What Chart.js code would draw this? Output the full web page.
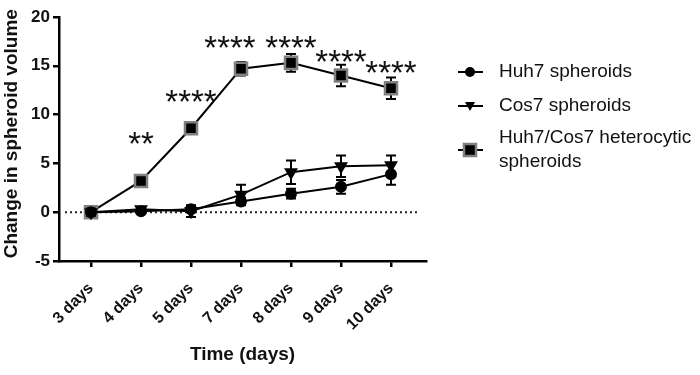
<!DOCTYPE html>
<html>
<head>
<meta charset="utf-8">
<script src="https://cdn.jsdelivr.net/npm/chart.js@4.4.1/dist/chart.umd.min.js"></script>
<style>
  html, body { margin: 0; padding: 0; background: #fff; }
  #wrap { width: 700px; height: 375px; }
</style>
</head>
<body>
<div id="wrap"><canvas id="chart"></canvas></div>
<script>
// data
var days = ['3 days', '4 days', '5 days', '7 days', '8 days', '9 days', '10 days'];
var huh7 = [0, 0.1, 0.3, 1.1, 1.9, 2.6, 3.9];
var huh7Err = [0.1, 0.1, 0.2, 0.4, 0.5, 0.7, 1.1];
var cos7 = [0, 0.3, 0.1, 1.8, 4.1, 4.7, 4.8];
var cos7Err = [0.1, 0.2, 0.6, 1.0, 1.2, 1.1, 1.0];
var hetero = [0, 3.2, 8.6, 14.7, 15.3, 14.0, 12.7];
var heteroErr = [0.2, 0.2, 0.3, 0.7, 0.9, 1.1, 1.1];
// significance marks and the value level they sit at
var sigMarks = ['', '**', '****', '****', '****', '****', '****'];
var sigLevel = [null, 7.8, 12.1, 17.6, 17.6, 16.2, 15.1];
var yTicks = [-5, 0, 5, 10, 15, 20];

var FONT = "'Liberation Sans', Arial, sans-serif";
var errs = [huh7Err, cos7Err, heteroErr];

function pts(arr) {
  return arr.map(function (v, i) { return { x: i, y: v }; });
}

// error bars + dotted zero line + stars
var errorBars = {
  id: 'errorBars',
  beforeDatasetsDraw: function (chart) {
    var ctx = chart.ctx, xs = chart.scales.x, ys = chart.scales.y, a = chart.chartArea;
    ctx.save();
    // dotted line at 0
    var y0 = ys.getPixelForValue(0);
    ctx.strokeStyle = '#222';
    ctx.lineWidth = 2;
    ctx.setLineDash([2, 3]);
    ctx.beginPath();
    ctx.moveTo(a.left + 6, y0);
    ctx.lineTo(a.right - 6, y0);
    ctx.stroke();
    ctx.setLineDash([]);

    ctx.strokeStyle = '#000';
    ctx.lineWidth = 2;
    chart.data.datasets.forEach(function (ds, di) {
      ds.data.forEach(function (p, i) {
        var e = errs[di][i];
        var x = xs.getPixelForValue(p.x);
        var yt = ys.getPixelForValue(p.y + e), yb = ys.getPixelForValue(p.y - e);
        ctx.beginPath();
        ctx.moveTo(x, yt); ctx.lineTo(x, yb);
        ctx.moveTo(x - 5, yt); ctx.lineTo(x + 5, yt);
        ctx.moveTo(x - 5, yb); ctx.lineTo(x + 5, yb);
        ctx.stroke();
      });
    });
    ctx.restore();
  },
  afterDatasetsDraw: function (chart) {
    var ctx = chart.ctx, xs = chart.scales.x, ys = chart.scales.y;
    ctx.save();
    ctx.fillStyle = '#111';
    ctx.font = '33px ' + FONT;
    ctx.textAlign = 'center';
    ctx.textBaseline = 'alphabetic';
    sigMarks.forEach(function (m, i) {
      if (!m) return;
      var x = xs.getPixelForValue(i);
      if (i === 3) x -= 11; // nudged left like the original so it clears the next one
      var y = ys.getPixelForValue(sigLevel[i]);
      ctx.fillText(m, x, y + 19);
    });
    ctx.restore();
  }
};

// legend on the right, line + marker
var sideLegend = {
  id: 'sideLegend',
  afterDraw: function (chart) {
    var ctx = chart.ctx;
    var items = [
      { text: ['Huh7 spheroids'], y: 72, shape: 'circle' },
      { text: ['Cos7 spheroids'], y: 106, shape: 'tri' },
      { text: ['Huh7/Cos7 heterocytic', 'spheroids'], y: 150, shape: 'rect' }
    ];
    ctx.save();
    items.forEach(function (it) {
      ctx.strokeStyle = '#000';
      ctx.lineWidth = 2;
      ctx.beginPath();
      ctx.moveTo(458, it.y); ctx.lineTo(483, it.y);
      ctx.stroke();
      ctx.beginPath();
      if (it.shape === 'circle') {
        ctx.fillStyle = '#000';
        ctx.arc(470, it.y, 5, 0, Math.PI * 2);
        ctx.fill();
      } else if (it.shape === 'tri') {
        ctx.fillStyle = '#000';
        ctx.moveTo(465, it.y - 4); ctx.lineTo(475, it.y - 4); ctx.lineTo(470, it.y + 5);
        ctx.closePath();
        ctx.fill();
      } else {
        ctx.fillStyle = '#000';
        ctx.fillRect(464, it.y - 6, 12, 12);
        ctx.strokeStyle = '#808080';
        ctx.lineWidth = 2.5;
        ctx.strokeRect(464, it.y - 6, 12, 12);
      }
      ctx.fillStyle = '#111';
      ctx.font = '19px ' + FONT;
      ctx.textAlign = 'left';
      ctx.textBaseline = 'middle';
      var n = it.text.length;
      it.text.forEach(function (t, k) {
        ctx.fillText(t, 499, it.y + (k - (n - 1) / 2) * 24);
      });
    });
    ctx.restore();
  }
};

var ctx = document.getElementById('chart').getContext('2d');
new Chart(ctx, {
  type: 'line',
  data: {
    datasets: [
      {
        label: 'Huh7 spheroids',
        data: pts(huh7),
        borderColor: '#000', borderWidth: 2,
        pointStyle: 'circle', pointRadius: 5,
        pointBackgroundColor: '#000', pointBorderColor: '#000',
        tension: 0
      },
      {
        label: 'Cos7 spheroids',
        data: pts(cos7),
        borderColor: '#000', borderWidth: 2,
        pointStyle: 'triangle', pointRotation: 180, pointRadius: 6,
        pointBackgroundColor: '#000', pointBorderColor: '#000',
        tension: 0
      },
      {
        label: 'Huh7/Cos7 heterocytic spheroids',
        data: pts(hetero),
        borderColor: '#000', borderWidth: 2,
        pointStyle: 'rect', pointRadius: 8.5,
        pointBackgroundColor: '#000', pointBorderColor: '#808080', pointBorderWidth: 2.5,
        tension: 0
      }
    ]
  },
  options: {
    responsive: true,
    maintainAspectRatio: false,
    animation: false,
    layout: { padding: { top: 17, right: 274, bottom: 0, left: 0 } },
    plugins: {
      legend: { display: false },
      tooltip: { enabled: false }
    },
    scales: {
      x: {
        type: 'linear',
        min: -0.64,
        max: 6.7,
        afterBuildTicks: function (scale) {
          scale.ticks = days.map(function (d, i) { return { value: i }; });
        },
        afterFit: function (scale) { scale.height = 114; },
        ticks: {
          autoSkip: false,
          minRotation: 45,
          maxRotation: 45,
          padding: 12,
          color: '#111',
          font: { family: FONT, size: 16, weight: 'bold' },
          callback: function (v) { return days[v]; }
        },
        grid: { drawOnChartArea: false, drawTicks: true, tickLength: 6, color: '#000', lineWidth: 2.5 },
        border: { display: true, color: '#000', width: 2.5 },
        title: {
          display: true,
          text: 'Time (days)',
          color: '#111',
          font: { family: FONT, size: 19, weight: 'bold' },
          padding: { top: 0, bottom: 9 }
        }
      },
      y: {
        min: -5,
        max: 20,
        afterBuildTicks: function (scale) {
          scale.ticks = yTicks.map(function (v) { return { value: v }; });
        },
        afterFit: function (scale) { scale.width = 59; },
        ticks: {
          color: '#111',
          padding: 3,
          font: { family: FONT, size: 17, weight: 'bold' }
        },
        grid: { drawOnChartArea: false, drawTicks: true, tickLength: 6, color: '#000', lineWidth: 2.5 },
        border: { display: true, color: '#000', width: 2.5 },
        title: {
          display: true,
          // leading spaces push the text up a little, as in the original
          text: '  Change in spheroid volume',
          color: '#111',
          font: { family: FONT, size: 19, weight: 'bold' },
          padding: { top: 0, bottom: 0 }
        }
      }
    }
  },
  plugins: [errorBars, sideLegend]
});
</script>
</body>
</html>
